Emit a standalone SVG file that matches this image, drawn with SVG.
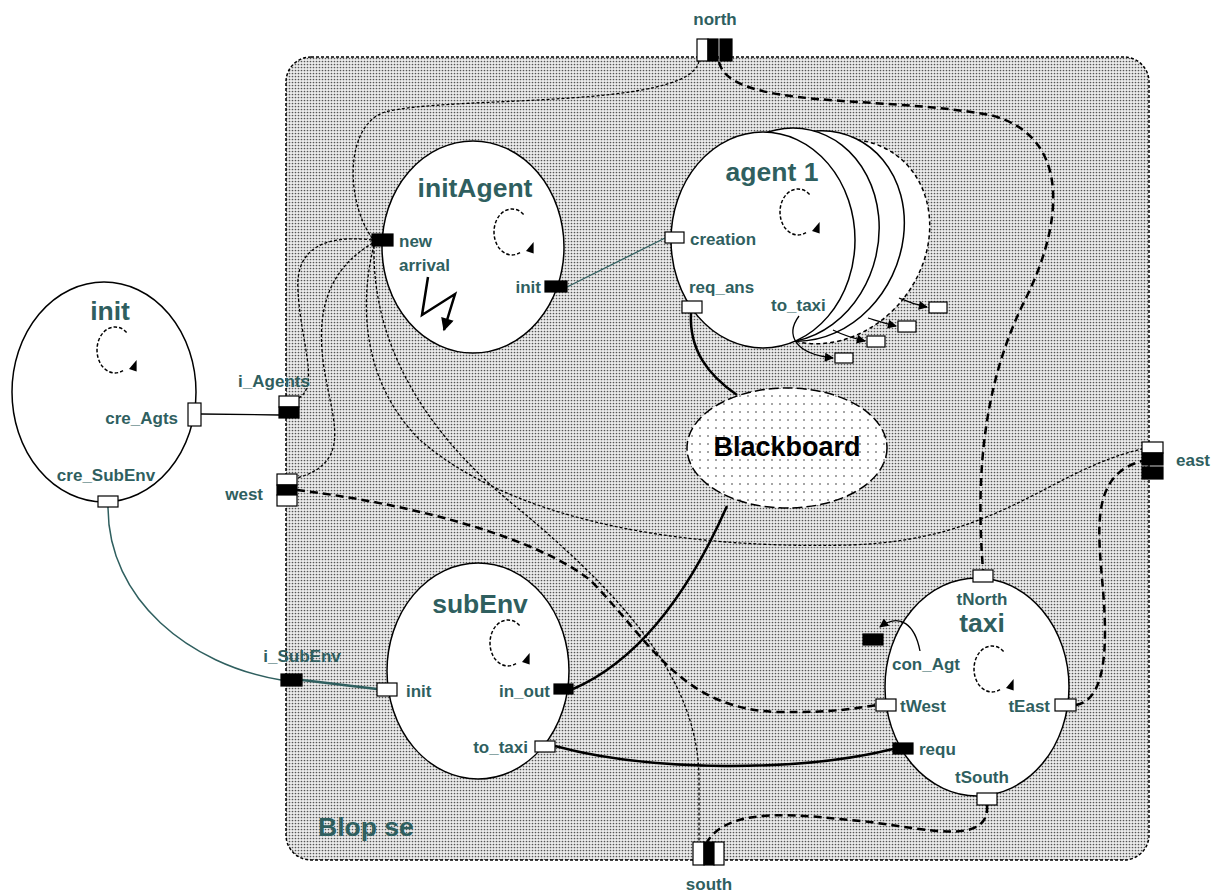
<svg xmlns="http://www.w3.org/2000/svg" xmlns:xlink="http://www.w3.org/1999/xlink" width="1222" height="895" viewBox="0 0 1222 895">
<style>
.lbl{font-family:"Liberation Sans",Arial,sans-serif;font-weight:bold;font-size:17px;fill:#2f5f5f}
.ttl{font-size:26.5px}
.mid{text-anchor:middle}
.end{text-anchor:end}
.node{fill:#fff;stroke:#000;stroke-width:1.5}
.pw{fill:#fff;stroke:#000;stroke-width:1.2}
.pb{fill:#000;stroke:#000;stroke-width:1.2}
.thin{fill:none;stroke:#000;stroke-width:1.3;stroke-dasharray:3 2}
.thick{fill:none;stroke:#000;stroke-width:2.5;stroke-dasharray:8 5}
.solid{fill:none;stroke:#000;stroke-width:2.5}
.teal{fill:none;stroke:#2f5f5f}
.arr{fill:none;stroke:#000;stroke-width:1.3}
</style>
<defs>
<pattern id="dots" width="3" height="3" patternUnits="userSpaceOnUse">
<rect width="3" height="3" fill="#ececec"/>
<circle cx="1.5" cy="1.5" r="0.85" fill="#555"/>
</pattern>
<pattern id="sparse" width="8" height="8" patternUnits="userSpaceOnUse">
<rect width="8" height="8" fill="#fff"/>
<circle cx="4" cy="4" r="0.8" fill="#333"/>
</pattern>
<marker id="ah" viewBox="0 0 10 10" refX="9" refY="5" markerWidth="11" markerHeight="9" markerUnits="userSpaceOnUse" orient="auto">
<path d="M0 0 L10 5 L0 10 Z" fill="#000"/>
</marker>
<marker id="ahb" viewBox="0 0 10 10" refX="9" refY="5" markerWidth="14" markerHeight="13" markerUnits="userSpaceOnUse" orient="auto">
<path d="M0 0 L10 5 L0 10 Z" fill="#000"/>
</marker>
<g id="loop">
<path d="M 11.6 -17.6 A 18 23 0 1 0 8 20.6" fill="none" stroke="#000" stroke-width="1.5" stroke-dasharray="3.5 2"/>
<path d="M 21.6 10 L 21.6 21.6 L 14 19 Z" fill="#000"/>
</g>
</defs>

<rect width="1222" height="895" fill="#fff"/>

<g id="Blop_se">
<rect x="286" y="57" width="863" height="803" rx="25" fill="url(#dots)" stroke="#000" stroke-width="1.5" stroke-dasharray="3 2"/>
<text class="lbl ttl" x="318" y="836">Blop se</text>
</g>

<g id="connectors">
<path class="arr" d="M 201 414 L 279 415"/>
<path class="teal" stroke-width="1.5" d="M 108 507 C 108 600, 190 665, 281 680"/>
<path class="teal" stroke-width="2.5" d="M 302 680 L 377 689"/>
<path class="teal" stroke-width="1.3" d="M 567 287 L 665 238"/>
<path class="solid" d="M 691 313 C 689 350, 708 375, 737 395"/>
<path class="solid" d="M 727 506 C 690 590, 640 660, 573 689"/>
<path class="solid" d="M 555 746 C 650 772, 800 772, 893 749"/>
<path class="thin" d="M 699 61 C 690 110, 450 95, 385 112 C 345 125, 345 200, 372 238"/>
<path class="thin" d="M 372 240 C 330 235, 295 245, 298 290 C 300 340, 320 385, 299 398"/>
<path class="thin" d="M 373 243 C 335 265, 318 300, 322 350 C 326 410, 360 460, 297 478"/>
<path class="thin" d="M 374 245 C 360 300, 360 380, 420 440 C 500 510, 650 550, 850 545 C 1000 540, 1050 470, 1142 449"/>
<path class="thin" d="M 374 246 C 372 340, 420 430, 520 510 C 640 610, 699 690, 699 780 L 699 842"/>
<path class="thick" d="M 719 62 C 730 110, 880 95, 990 115 C 1070 135, 1065 220, 1025 300 C 985 380, 975 470, 983 570"/>
<path class="thick" d="M 1076 705 C 1105 700, 1108 650, 1103 590 C 1098 530, 1090 475, 1142 461"/>
<path class="thick" d="M 987 805 C 990 845, 930 830, 870 822 C 800 815, 730 805, 707 842"/>
<path class="thick" d="M 297 490 C 420 505, 540 540, 590 580 C 650 640, 680 710, 780 712 C 830 713, 860 708, 876 705"/>
</g>

<g id="init">
<ellipse class="node" cx="104" cy="392" rx="92" ry="110"/>
<text class="lbl ttl mid" x="110" y="320">init</text>
<use xlink:href="#loop" href="#loop" x="115" y="350"/>
<rect class="pw" x="188" y="403" width="13" height="23"/>
<text class="lbl end" x="178" y="424">cre_Agts</text>
<rect class="pw" x="98" y="496" width="20" height="11"/>
<text class="lbl mid" x="106" y="481">cre_SubEnv</text>
</g>

<g id="port_i_Agents">
<rect class="pw" x="279" y="396" width="20" height="11"/>
<rect class="pb" x="279" y="407" width="20" height="11"/>
<text class="lbl mid" x="274" y="387">i_Agents</text>
</g>

<g id="port_west">
<rect class="pw" x="277" y="474" width="20" height="11"/>
<rect class="pb" x="277" y="485" width="20" height="10"/>
<rect class="pw" x="277" y="495" width="20" height="11"/>
<text class="lbl end" x="263" y="500">west</text>
</g>

<g id="port_i_SubEnv">
<rect class="pb" x="281" y="674" width="21" height="12"/>
<text class="lbl mid" x="302" y="662">i_SubEnv</text>
</g>

<g id="port_north">
<rect class="pw" x="697" y="39" width="11" height="22"/>
<rect class="pb" x="708" y="39" width="10" height="22"/>
<rect class="pb" x="720" y="39" width="12" height="22"/>
<text class="lbl mid" x="715" y="25">north</text>
</g>

<g id="port_south">
<rect class="pw" x="693" y="842" width="11" height="23"/>
<rect class="pb" x="704" y="842" width="10" height="23"/>
<rect class="pw" x="714" y="842" width="10" height="23"/>
<text class="lbl mid" x="709" y="890">south</text>
</g>

<g id="port_east">
<rect class="pw" x="1142" y="442" width="21" height="11"/>
<rect class="pb" x="1142" y="453" width="21" height="12"/>
<rect class="pb" x="1142" y="467" width="21" height="12"/>
<text class="lbl" x="1176" y="466">east</text>
</g>

<g id="initAgent">
<ellipse class="node" cx="473" cy="247" rx="91" ry="106"/>
<text class="lbl ttl mid" x="475" y="197">initAgent</text>
<use xlink:href="#loop" href="#loop" x="512" y="232"/>
<rect class="pb" x="372" y="234" width="21" height="12"/>
<text class="lbl" x="399" y="247">new</text>
<text class="lbl" x="399" y="271">arrival</text>
<rect class="pb" x="545" y="281" width="22" height="11"/>
<text class="lbl end" x="541" y="293">init</text>
<polyline points="428,277 422,315 455,294 444,330" fill="none" stroke="#000" stroke-width="2.5" marker-end="url(#ahb)"/>
</g>

<g id="agent1">
<ellipse class="node" cx="763" cy="240" rx="92" ry="108" transform="rotate(38 795 340)" stroke-dasharray="4 3"/>
<ellipse class="node" cx="763" cy="240" rx="92" ry="108" transform="rotate(25.5 795 340)"/>
<ellipse class="node" cx="763" cy="240" rx="92" ry="108" transform="rotate(13 795 340)"/>
<ellipse class="node" cx="763" cy="240" rx="92" ry="108"/>
<text class="lbl ttl mid" x="772" y="181">agent 1</text>
<use xlink:href="#loop" href="#loop" x="798" y="212"/>
<rect class="pw" x="665" y="232" width="19" height="11"/>
<text class="lbl" x="690" y="245">creation</text>
<rect class="pw" x="682" y="301" width="20" height="12"/>
<text class="lbl" x="689" y="293">req_ans</text>
<text class="lbl" x="771" y="311">to_taxi</text>
<rect class="pw" x="835" y="353" width="18" height="10"/>
<rect class="pw" x="867" y="336" width="18" height="11"/>
<rect class="pw" x="898" y="321" width="18" height="11"/>
<rect class="pw" x="929" y="302" width="18" height="11"/>
<path class="arr" d="M 799 316 C 785 335, 795 354, 833 358" marker-end="url(#ah)"/>
<path class="arr" d="M 833 330 C 845 336, 852 338, 865 341" marker-end="url(#ah)"/>
<path class="arr" d="M 868 318 C 878 321, 884 323, 896 326" marker-end="url(#ah)"/>
<path class="arr" d="M 899 298 C 908 302, 912 304, 927 307" marker-end="url(#ah)"/>
</g>

<g id="Blackboard">
<ellipse cx="787" cy="448" rx="100" ry="60" fill="url(#sparse)" stroke="#000" stroke-width="1.5" stroke-dasharray="10 4"/>
<text x="787" y="456" text-anchor="middle" font-family="Liberation Sans, Arial, sans-serif" font-weight="bold" font-size="27" fill="#000">Blackboard</text>
</g>

<g id="subEnv">
<ellipse class="node" cx="478" cy="671" rx="91" ry="108"/>
<text class="lbl ttl mid" x="480" y="613">subEnv</text>
<use xlink:href="#loop" href="#loop" x="508" y="643"/>
<rect class="pw" x="377" y="683" width="20" height="13"/>
<text class="lbl" x="406" y="697">init</text>
<rect class="pb" x="554" y="684" width="19" height="10"/>
<text class="lbl end" x="550" y="697">in_out</text>
<rect class="pw" x="535" y="741" width="20" height="11"/>
<text class="lbl end" x="528" y="753">to_taxi</text>
</g>

<g id="taxi">
<ellipse class="node" cx="977" cy="687" rx="92" ry="109"/>
<rect class="pw" x="973" y="570" width="20" height="12"/>
<text class="lbl mid" x="982" y="605">tNorth</text>
<text class="lbl ttl mid" x="982" y="632">taxi</text>
<use xlink:href="#loop" href="#loop" x="992" y="669"/>
<text class="lbl" x="892" y="670">con_Agt</text>
<rect class="pb" x="863" y="634" width="20" height="11"/>
<path class="arr" d="M 920 651 C 915 625, 900 612, 880 627" marker-end="url(#ah)"/>
<rect class="pw" x="876" y="699" width="20" height="12"/>
<text class="lbl" x="900" y="712">tWest</text>
<rect class="pw" x="1055" y="699" width="21" height="12"/>
<text class="lbl end" x="1050" y="712">tEast</text>
<rect class="pb" x="893" y="743" width="20" height="11"/>
<text class="lbl" x="919" y="755">requ</text>
<rect class="pw" x="977" y="793" width="20" height="12"/>
<text class="lbl mid" x="982" y="783">tSouth</text>
</g>
</svg>
